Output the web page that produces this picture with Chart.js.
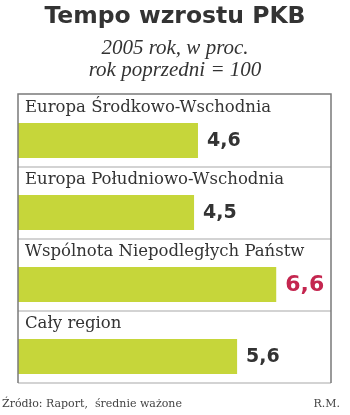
<!DOCTYPE html>
<html>
<head>
<meta charset="utf-8">
<title>Tempo wzrostu PKB</title>
<script src="https://cdn.jsdelivr.net/npm/chart.js@4.4.1/dist/chart.umd.min.js"></script>
<style>
  body { margin: 0; background: #fff; }
  .wrap { position: relative; width: 350px; height: 415px; overflow: hidden; }
  .wrap canvas { position: absolute; left: 0; top: 0; }
  .title {
    position: absolute; left: 0; top: 1px; width: 350px;
    text-align: center; color: #333;
    font: bold 23.5px/28px "DejaVu Sans";
  }
  .subtitle {
    position: absolute; left: 0; top: 36px; width: 350px;
    text-align: center; color: #333;
    font: italic 21px/22px "Liberation Serif";
  }
  .footer {
    position: absolute; top: 396px; color: #444;
    font: 11px/16px "DejaVu Serif";
  }
  .source { left: 2px; }
  .author { right: 10px; }
</style>
</head>
<body>
<div class="wrap">
  <canvas id="chart" width="350" height="415"></canvas>
  <div class="title">Tempo wzrostu PKB</div>
  <div class="subtitle">2005 rok, w proc.<br>rok poprzedni = 100</div>
  <div class="footer source">Źródło: Raport,&nbsp; średnie ważone</div>
  <div class="footer author">R.M.</div>
</div>
<script>
const regions = [
  'Europa Środkowo-Wschodnia',
  'Europa Południowo-Wschodnia',
  'Wspólnota Niepodległych Państw',
  'Cały region'
];
const growth = [4.6, 4.5, 6.6, 5.6];
const highlighted = ['Wspólnota Niepodległych Państw'];

const barColor = '#c6d63a';
const textColor = '#333333';
const accentColor = '#c4264f';

// frame around the rows, one separator under each bar, names above bars, values after them
const rowFrame = {
  id: 'rowFrame',
  afterDatasetsDraw(chart) {
    const { ctx, chartArea } = chart;
    const bars = chart.getDatasetMeta(0).data;
    const first = bars[0];
    const top = first.y - first.height / 2 - 29;
    let bottom = top;

    ctx.save();
    bars.forEach((bar, i) => {
      const barTop = bar.y - bar.height / 2;
      const sep = bar.y + bar.height / 2 + 9;
      bottom = sep;

      ctx.strokeStyle = '#a8a8a8';
      ctx.lineWidth = 1.2;
      ctx.beginPath();
      ctx.moveTo(chartArea.left, sep);
      ctx.lineTo(chartArea.right, sep);
      ctx.stroke();

      ctx.fillStyle = textColor;
      ctx.font = '16.5px "DejaVu Serif"';
      ctx.textBaseline = 'middle';
      ctx.textAlign = 'left';
      ctx.fillText(regions[i], chartArea.left + 7, barTop - 15);

      const hot = highlighted.includes(regions[i]);
      ctx.fillStyle = hot ? accentColor : textColor;
      ctx.font = hot ? 'bold 22px "DejaVu Sans"' : 'bold 19px "DejaVu Sans"';
      const label = growth[i].toFixed(1).replace('.', ',');
      ctx.fillText(label, bar.x + 9, bar.y + 1);
    });

    ctx.strokeStyle = '#7a7a7a';
    ctx.lineWidth = 1.5;
    ctx.beginPath();
    ctx.moveTo(chartArea.left, bottom);
    ctx.lineTo(chartArea.left, top);
    ctx.lineTo(chartArea.right, top);
    ctx.lineTo(chartArea.right, bottom);
    ctx.stroke();
    ctx.restore();
  }
};

new Chart(document.getElementById('chart'), {
  type: 'bar',
  data: {
    labels: regions,
    datasets: [{
      data: growth,
      backgroundColor: barColor,
      borderWidth: 0,
      categoryPercentage: 1,
      barPercentage: 35 / 72
    }]
  },
  options: {
    indexAxis: 'y',
    responsive: false,
    animation: false,
    layout: { padding: { left: 18, right: 19, top: 104.5, bottom: 22.5 } },
    scales: {
      x: { display: false, min: 0, max: 8 },
      y: { display: false }
    },
    plugins: {
      legend: { display: false },
      tooltip: { enabled: false }
    }
  },
  plugins: [rowFrame]
});
</script>
</body>
</html>
